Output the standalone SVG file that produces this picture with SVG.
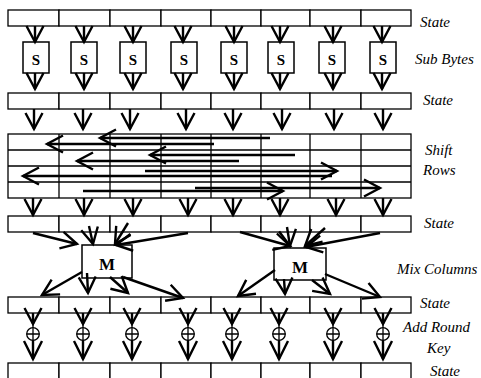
<svg xmlns="http://www.w3.org/2000/svg" width="481" height="378" viewBox="0 0 481 378">
  <style>
    .cell{fill:#fff;stroke:#000;stroke-width:1.3}
    .box{fill:#fff;stroke:#000;stroke-width:1.5}
    .ln{fill:none;stroke:#000;stroke-width:1.3}
    .ar{fill:none;stroke:#000;stroke-width:2.4;marker-end:url(#hd)}
    .ar2{fill:none;stroke:#000;stroke-width:2.4;marker-end:url(#hd2)}
    .lbl{font-family:"Liberation Serif","Times New Roman",serif;font-style:italic;font-size:15px;fill:#000}
    .sym{font-family:"Liberation Serif","Times New Roman",serif;font-weight:bold;text-anchor:middle;fill:#000}
  </style>
  <defs>
    <!-- open V arrowheads -->
    <marker id="hd" viewBox="-4 -4 24 25" refX="16" refY="8.5" markerWidth="24" markerHeight="25" markerUnits="userSpaceOnUse" orient="auto">
      <path d="M0,0 L16,8.5 L0,17" fill="none" stroke="#000" stroke-width="2.4"/>
    </marker>
    <marker id="hd2" viewBox="-4 -4 28 28" refX="18" refY="9" markerWidth="28" markerHeight="28" markerUnits="userSpaceOnUse" orient="auto">
      <path d="M0,0 L18,9 L0,18" fill="none" stroke="#000" stroke-width="2.4"/>
    </marker>
    <!-- one state row of 8 bytes -->
    <g id="row">
      <rect class="cell" x="8" y="0" width="51" height="16"/>
      <rect class="cell" x="59" y="0" width="51" height="16"/>
      <rect class="cell" x="110" y="0" width="51" height="16"/>
      <rect class="cell" x="161" y="0" width="50" height="16"/>
      <rect class="cell" x="211" y="0" width="50" height="16"/>
      <rect class="cell" x="261" y="0" width="49" height="16"/>
      <rect class="cell" x="310" y="0" width="51" height="16"/>
      <rect class="cell" x="361" y="0" width="50" height="16"/>
    </g>
    <!-- XOR symbol -->
    <g id="xor">
      <circle cx="0" cy="334" r="6.3" fill="#fff" stroke="#000" stroke-width="1.3"/>
      <path d="M0,323 V340 M-6.3,334 H6.3" fill="none" stroke="#000" stroke-width="1.3"/>
    </g>
  </defs>

  <!-- state rows -->
  <g id="state-1"><use href="#row" y="10"/></g>
  <g id="state-2"><use href="#row" y="93"/></g>
  <g id="state-3"><use href="#row" y="216"/></g>
  <g id="state-4"><use href="#row" y="297"/></g>
  <g id="state-5"><use href="#row" y="363"/></g>

  <!-- Sub Bytes S-boxes -->
  <g id="sbox-1"><rect class="box" x="23" y="42" width="26" height="31"/><text class="sym" x="36" y="65" font-size="15">S</text></g>
  <g id="sbox-2"><rect class="box" x="71" y="42" width="26" height="31"/><text class="sym" x="84" y="65" font-size="15">S</text></g>
  <g id="sbox-3"><rect class="box" x="120" y="42" width="26" height="31"/><text class="sym" x="133" y="65" font-size="15">S</text></g>
  <g id="sbox-4"><rect class="box" x="171" y="42" width="26" height="31"/><text class="sym" x="184" y="65" font-size="15">S</text></g>
  <g id="sbox-5"><rect class="box" x="221" y="42" width="26" height="31"/><text class="sym" x="234" y="65" font-size="15">S</text></g>
  <g id="sbox-6"><rect class="box" x="268" y="42" width="26" height="31"/><text class="sym" x="281" y="65" font-size="15">S</text></g>
  <g id="sbox-7"><rect class="box" x="319" y="42" width="26" height="31"/><text class="sym" x="332" y="65" font-size="15">S</text></g>
  <g id="sbox-8"><rect class="box" x="370" y="42" width="26" height="31"/><text class="sym" x="383" y="65" font-size="15">S</text></g>

  <!-- Shift Rows grid -->
  <g id="shift-rows">
    <rect class="cell" x="8" y="134" width="403" height="64"/>
    <path class="ln" d="M8,150 H411 M8,166 H411 M8,182 H411 M59,134 V198 M110,134 V198 M161,134 V198 M211,134 V198 M261,134 V198 M310,134 V198 M361,134 V198"/>
  </g>

  <!-- Mix Columns boxes -->
  <g id="mix-1"><rect class="box" x="82" y="245" width="50" height="33"/><text class="sym" x="107" y="270" font-size="17">M</text></g>
  <g id="mix-2"><rect class="box" x="274" y="248" width="52" height="32"/><text class="sym" x="300" y="273" font-size="17">M</text></g>

  <!-- Add Round Key XORs -->
  <g id="xor-1"><use href="#xor" x="33"/></g>
  <g id="xor-2"><use href="#xor" x="83"/></g>
  <g id="xor-3"><use href="#xor" x="132"/></g>
  <g id="xor-4"><use href="#xor" x="188"/></g>
  <g id="xor-5"><use href="#xor" x="232"/></g>
  <g id="xor-6"><use href="#xor" x="279"/></g>
  <g id="xor-7"><use href="#xor" x="333"/></g>
  <g id="xor-8"><use href="#xor" x="383"/></g>

  <!-- connectors -->
  <g id="connectors">
    <!-- state -> S-boxes -->
    <path class="ar" d="M35,26 V42"/><path class="ar" d="M84,26 V42"/><path class="ar" d="M133,26 V42"/><path class="ar" d="M183,26 V42"/>
    <path class="ar" d="M234,26 V42"/><path class="ar" d="M280,26 V42"/><path class="ar" d="M333,26 V42"/><path class="ar" d="M382,26 V42"/>
    <!-- S-boxes -> state -->
    <path class="ar" d="M35,73 V89"/><path class="ar" d="M84,73 V89"/><path class="ar" d="M133,73 V89"/><path class="ar" d="M183,73 V89"/>
    <path class="ar" d="M234,73 V89"/><path class="ar" d="M280,73 V89"/><path class="ar" d="M333,73 V89"/><path class="ar" d="M382,73 V89"/>
    <!-- state -> shift rows -->
    <path class="ar" d="M34,109 V129"/><path class="ar" d="M83,109 V129"/><path class="ar" d="M130,109 V129"/><path class="ar" d="M186,109 V129"/>
    <path class="ar" d="M233,109 V129"/><path class="ar" d="M282,109 V129"/><path class="ar" d="M334,109 V129"/><path class="ar" d="M383,109 V129"/>
    <!-- byte shifts -->
    <path class="ar" d="M214,144 H47"/>
    <path class="ar" d="M270,138 H100"/>
    <path class="ar" d="M239,161 H77"/>
    <path class="ar" d="M295,155 H150"/>
    <path class="ar" d="M332,176 H23"/>
    <path class="ar" d="M145,171 H337"/>
    <path class="ar" d="M83,191 H283"/>
    <path class="ar" d="M195,188 H380"/>
    <!-- shift rows -> state -->
    <path class="ar" d="M33,198 V215"/><path class="ar" d="M84,198 V215"/><path class="ar" d="M133,198 V215"/><path class="ar" d="M188,198 V215"/>
    <path class="ar" d="M233,198 V215"/><path class="ar" d="M280,198 V215"/><path class="ar" d="M336,198 V215"/><path class="ar" d="M383,198 V215"/>
    <!-- state -> mix columns -->
    <path class="ar" d="M33,233 L77,244"/>
    <path class="ar" d="M89,226 L93,244"/>
    <path class="ar" d="M128,223 L115,244"/>
    <path class="ar" d="M188,233 L116,245"/>
    <path class="ar" d="M240,232 L290,246"/>
    <path class="ar" d="M287,227 L290,246"/>
    <path class="ar" d="M325,228 L305,246"/>
    <path class="ar" d="M380,233 L306,247"/>
    <!-- mix columns -> state -->
    <path class="ar" d="M82,272 L42,295"/>
    <path class="ar" d="M87,273 L88,293"/>
    <path class="ar" d="M110,277 L128,293"/>
    <path class="ar" d="M123,277 L183,298"/>
    <path class="ar" d="M275,270 L238,296"/>
    <path class="ar" d="M284,279 L285,294"/>
    <path class="ar" d="M312,280 L330,294"/>
    <path class="ar" d="M325,274 L380,297"/>
    <!-- state -> XOR -> state -->
    <path class="ar" d="M33,313 V324"/><path class="ar" d="M83,313 V324"/><path class="ar" d="M132,313 V324"/><path class="ar" d="M188,313 V324"/>
    <path class="ar" d="M232,313 V324"/><path class="ar" d="M279,313 V324"/><path class="ar" d="M333,313 V324"/><path class="ar" d="M383,313 V324"/>
    <path class="ar2" d="M33,340 V359"/><path class="ar2" d="M83,340 V359"/><path class="ar2" d="M132,340 V359"/><path class="ar2" d="M188,340 V359"/>
    <path class="ar2" d="M232,340 V359"/><path class="ar2" d="M279,340 V359"/><path class="ar2" d="M333,340 V359"/><path class="ar2" d="M383,340 V359"/>
  </g>

  <!-- stage labels -->
  <g id="labels">
    <text class="lbl" x="420" y="27">State</text>
    <text class="lbl" x="415" y="64">Sub Bytes</text>
    <text class="lbl" x="423" y="105">State</text>
    <text class="lbl" x="425" y="155">Shift</text>
    <text class="lbl" x="423" y="175">Rows</text>
    <text class="lbl" x="424" y="228">State</text>
    <text class="lbl" x="397" y="274">Mix Columns</text>
    <text class="lbl" x="420" y="308">State</text>
    <text class="lbl" x="403" y="332">Add Round</text>
    <text class="lbl" x="427" y="353">Key</text>
    <text class="lbl" x="430" y="376">State</text>
  </g>
</svg>
